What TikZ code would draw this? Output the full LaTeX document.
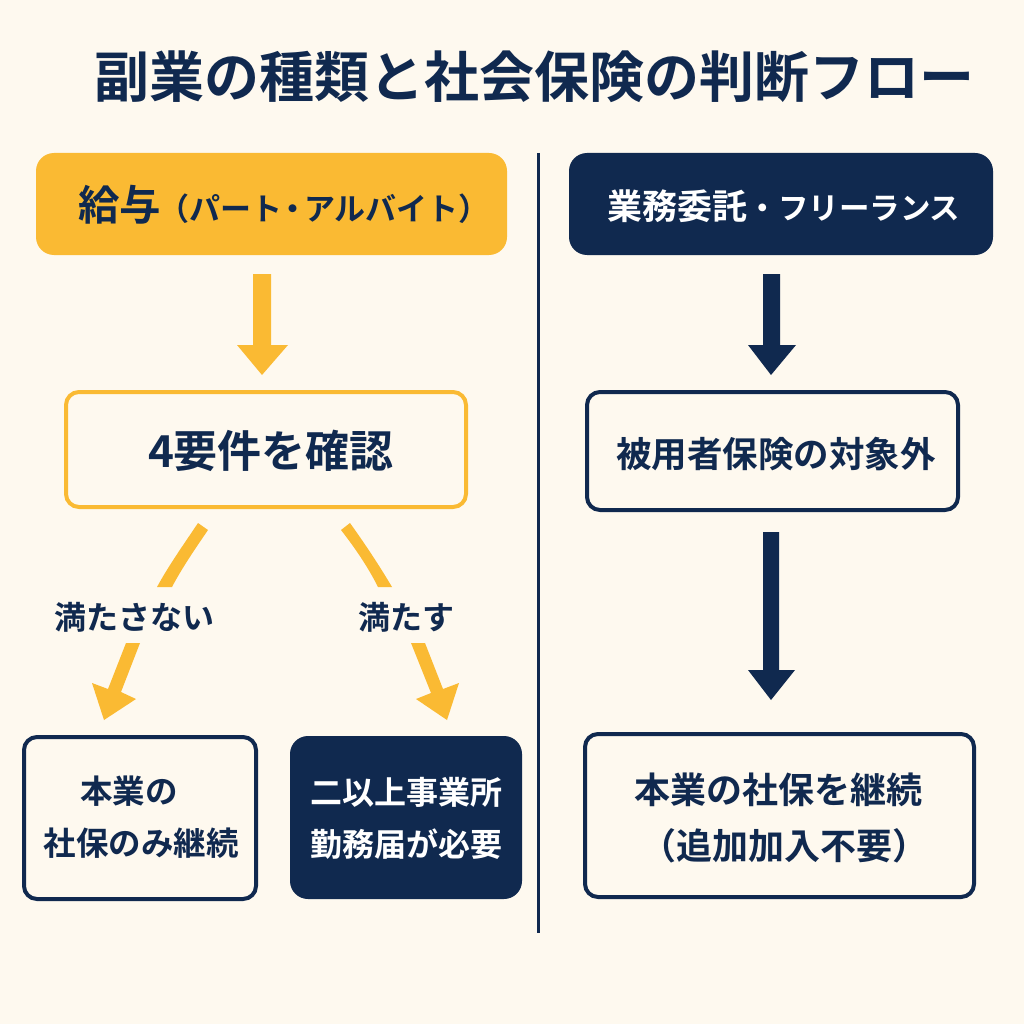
\documentclass[tikz,border=0pt]{standalone}
\usepackage{fontspec}
\setmainfont{Noto Sans CJK JP}[BoldFont={Noto Sans CJK JP Bold}]
\definecolor{bgc}{HTML}{FEF9EF}
\definecolor{navy}{HTML}{10294F}
\definecolor{amber}{HTML}{FABA33}
\newcommand{\fs}[1]{\bfseries\fontsize{#1}{#1}\selectfont}
\newcommand{\tdot}{\hspace{-.15em}・\hspace{-.15em}}
\tikzset{
 px/.style={x=1pt,y=-1pt},
 txt/.style={text=navy,align=center,inner sep=0pt},
 ybox/.style={draw=amber,line width=4pt,fill=bgc,rounded corners=13pt},
 nbox/.style={draw=navy,line width=4pt,fill=bgc,rounded corners=13pt},
 yfill/.style={fill=amber,rounded corners=18pt},
 nfill/.style={fill=navy,rounded corners=18pt},
}
\begin{document}
\begin{tikzpicture}[px]
\useasboundingbox (0,0) rectangle (1024,1024);
\fill[bgc] (0,0) rectangle (1024,1024);
\node[txt,font=\fs{55}] (title) at (534,77) {副業の種類と社会保険の判断フロー};
\draw[navy,line width=2.5pt] (538.5,153) coordinate (divA) -- (538.5,933) coordinate (divB);
% top boxes
\fill[yfill] (36,153) rectangle (507,255);
\node[txt,font=\fs{31}] (a) at (284,205) {{\fs{41.5}給与}\hspace{-3pt}（パート\tdot アルバイト）};
\fill[nfill] (569,153) rectangle (993,255);
\node[txt,text=white,font=\fs{30.5}] (b) at (784,206) {{\fs{35}業務委託}・フリーランス};
% arrows
\fill[amber] (253,274) -- (271,274) -- (271,345) -- (288,345) -- (262,375) -- (237,345) -- (253,345) -- cycle;
\fill[navy] (763,274) -- (780,274) -- (780,345) -- (796,345) -- (771,375) -- (748,345) -- (763,345) -- cycle;
\fill[navy] (763,532) -- (779,532) -- (779,670) -- (795,670) -- (771,700) -- (748,670) -- (763,670) -- cycle;
\draw[ybox] (66,392) rectangle (466,507);
\node[txt,font=\fs{44}] (c) at (271,451) {4要件を確認};
\draw[nbox] (587,392) rectangle (958,510);
\node[txt,font=\fs{35.5}] (d) at (776,454) {被用者保険の対象外};
% curved arrows
\fill[amber] (198,523) -- (208,530) .. controls (195,549) and (182,568) .. (172,587) -- (157,587) .. controls (169,565) and (184,544) .. (198,523) -- cycle;
\fill[amber] (126,643) -- (140,643) -- (121,692) -- (136,699) -- (104,720) -- (92,683) -- (108,689) -- cycle;
\fill[amber] (350,523) -- (341,530) .. controls (355,548) and (368,567) .. (378,587) -- (392,587) .. controls (379,565) and (365,544) .. (350,523) -- cycle;
\fill[amber] (411,643) -- (425,643) -- (443,689) -- (459,683) -- (447,720) -- (416,699) -- (431,693) -- cycle;
\node[txt,font=\fs{32}] (e) at (134,617) {満たさない};
\node[txt,font=\fs{32}] (f) at (406,617) {満たす};
% bottom boxes
\draw[nbox] (24,737) rectangle (256,899);
\node[txt,font=\fs{32.5}] (g1) at (129,791) {本業の};
\node[txt,font=\fs{32.5}] (g2) at (141,843) {社保のみ継続};
\fill[nfill] (290,736) rectangle (522,899);
\node[txt,text=white,font=\fs{32}] (h1) at (406,792) {二以上事業所};
\node[txt,text=white,font=\fs{32}] (h2) at (406,844) {勤務届が必要};
\draw[nbox] (585,734) rectangle (974,897);
\node[txt,font=\fs{36}] (i1) at (778,790) {本業の社保を継続};
\node[txt,font=\fs{36}] (i2) at (784,846) {（追加加入不要）};
\end{tikzpicture}
\end{document}
